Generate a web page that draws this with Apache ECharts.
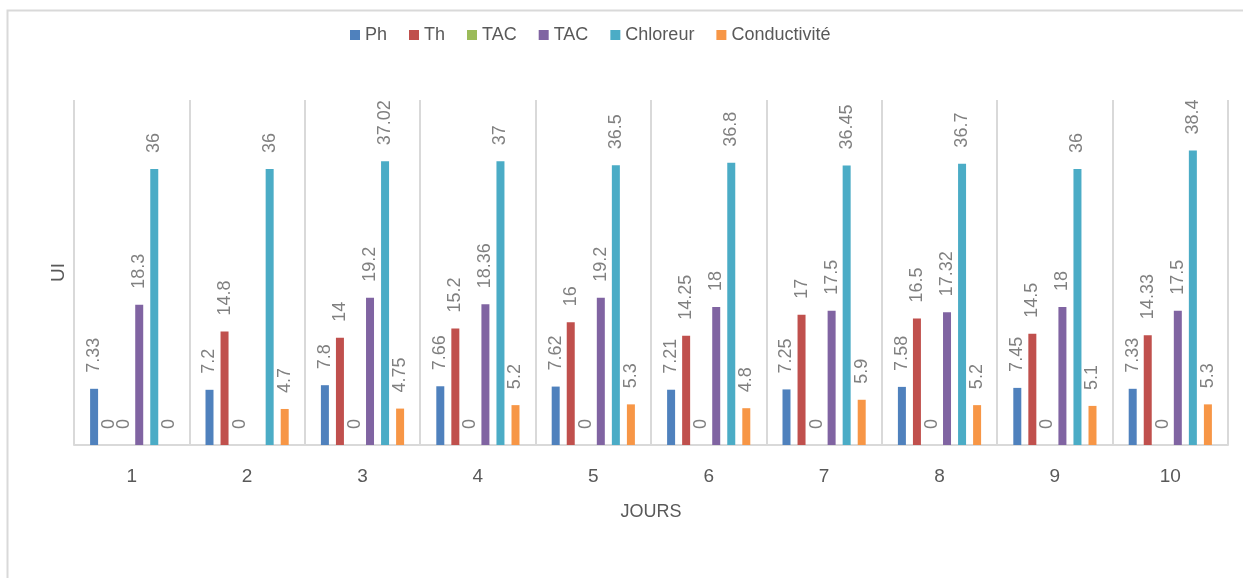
<!DOCTYPE html>
<html>
<head>
<meta charset="utf-8">
<title>UI par jour</title>
<script src="https://cdn.jsdelivr.net/npm/echarts@6/dist/echarts.min.js"></script>
<style>
  html, body { margin: 0; padding: 0; background: #ffffff; }
  #chart { width: 1243px; height: 578px; }
</style>
</head>
<body>
<div id="chart"></div>
<script>
// Days on the category axis
const jours = ['1', '2', '3', '4', '5', '6', '7', '8', '9', '10'];

// Measured values per day (null = no measurement)
const ph = [7.33, 7.2, 7.8, 7.66, 7.62, 7.21, 7.25, 7.58, 7.45, 7.33];
const th = [0, 14.8, 14, 15.2, 16, 14.25, 17, 16.5, 14.5, 14.33];
const tacA = [0, 0, 0, 0, 0, 0, 0, 0, 0, 0];
const tacB = [18.3, null, 19.2, 18.36, 19.2, 18, 17.5, 17.32, 18, 17.5];
const chloreur = [36, 36, 37.02, 37, 36.5, 36.8, 36.45, 36.7, 36, 38.4];
const conductivite = [0, 4.7, 4.75, 5.2, 5.3, 4.8, 5.9, 5.2, 5.1, 5.3];

// Both TAC series share the same label; the second key carries a trailing
// space so the legend keeps them apart, and the formatter trims it again.
const seriesNames = ['Ph', 'Th', 'TAC', 'TAC ', 'Chloreur', 'Conductivité'];
const seriesData = [ph, th, tacA, tacB, chloreur, conductivite];
const seriesColors = ['#4f81bd', '#c0504d', '#9bbb59', '#8064a2', '#4bacc6', '#f79646'];

const FONT = '"Liberation Sans", Arial, sans-serif';

const chart = echarts.init(document.getElementById('chart'), null, { renderer: 'canvas' });

const series = seriesNames.map((name, i) => ({
  name: name,
  type: 'bar',
  data: seriesData[i],
  barWidth: 8,
  barGap: '88%',
  itemStyle: { color: seriesColors[i] },
  label: {
    show: true,
    position: 'top',
    distance: 16,
    rotate: 90,
    align: 'left',
    verticalAlign: 'middle',
    color: '#808080',
    fontFamily: FONT,
    fontSize: 18
  },
  emphasis: { disabled: true }
}));

chart.setOption({
  animation: false,
  backgroundColor: '#ffffff',
  graphic: [{
    type: 'rect',
    shape: { x: 7.5, y: 10.5, width: 1400, height: 800 },
    style: { fill: 'none', stroke: '#d9d9d9', lineWidth: 2 },
    silent: true,
    z: -10
  }],
  legend: {
    left: 345,
    top: 21,
    itemWidth: 10,
    itemHeight: 10,
    itemGap: 22,
    icon: 'rect',
    formatter: (name) => name.trim(),
    textStyle: { color: '#595959', fontFamily: FONT, fontSize: 18 },
    data: seriesNames.map((n, i) => ({ name: n, itemStyle: { color: seriesColors[i] } }))
  },
  grid: { left: 74, right: 15, top: 100, bottom: 133, containLabel: false },
  xAxis: {
    type: 'category',
    data: jours,
    boundaryGap: true,
    name: 'JOURS',
    nameLocation: 'middle',
    nameGap: 58,
    nameTextStyle: { color: '#595959', fontFamily: FONT, fontSize: 18 },
    axisLine: { show: true, lineStyle: { color: '#d9d9d9', width: 2 } },
    axisTick: { show: false },
    axisLabel: { color: '#595959', fontFamily: FONT, fontSize: 19, margin: 22 },
    splitLine: { show: true, lineStyle: { color: '#d9d9d9', width: 2 } }
  },
  yAxis: {
    type: 'value',
    min: 0,
    max: 45,
    interval: 5,
    name: 'UI',
    nameLocation: 'middle',
    nameGap: 6,
    nameRotate: 90,
    nameTextStyle: { color: '#595959', fontFamily: FONT, fontSize: 19 },
    axisLine: { show: false },
    axisTick: { show: false },
    axisLabel: { show: false },
    splitLine: { show: false }
  },
  series: series
});
</script>
</body>
</html>
